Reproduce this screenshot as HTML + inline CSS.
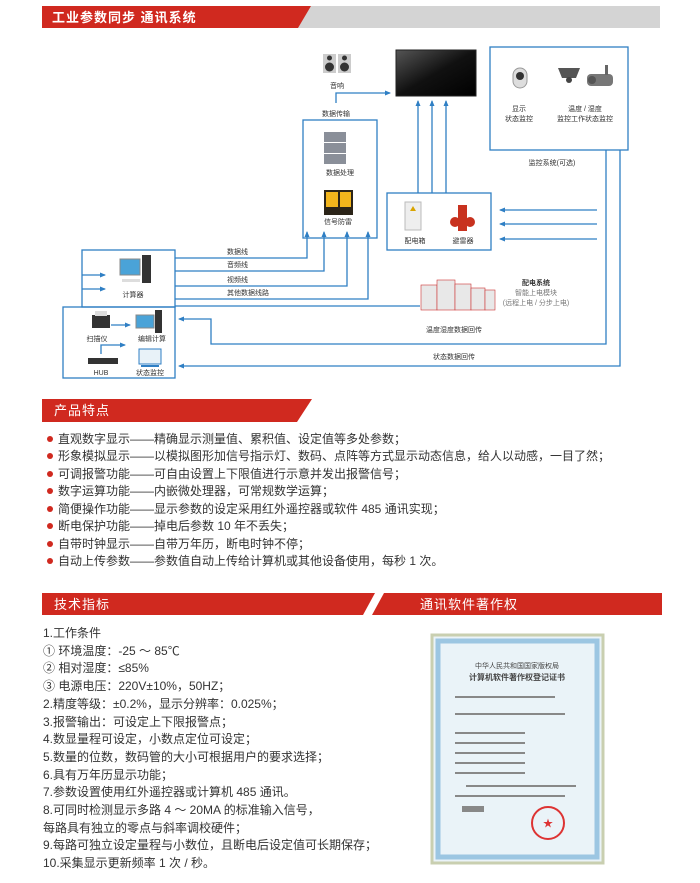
<!DOCTYPE html>
<html><head><meta charset="utf-8">
<style>
*{margin:0;padding:0;box-sizing:border-box}
body{width:700px;height:883px;background:#fff;position:relative;overflow:hidden;font-family:"Liberation Sans","Noto Sans CJK SC",sans-serif;color:#333}
.t{position:absolute;font-size:12px;line-height:14px;white-space:nowrap}
.b{position:absolute;left:47px;width:6px;height:6px;border-radius:50%;background:#d0291f}
</style></head><body>
<svg width="700" height="883" style="position:absolute;left:0;top:0" font-family="Liberation Sans, Noto Sans CJK SC, sans-serif">
<defs>
<marker id="a" markerWidth="6" markerHeight="6" refX="5" refY="3" orient="auto" markerUnits="userSpaceOnUse"><path d="M0,0.5 L6,3 L0,5.5z" fill="#2f7fc4"/></marker>
<linearGradient id="tv" x1="0" y1="0" x2="1" y2="1"><stop offset="0" stop-color="#555"/><stop offset="0.5" stop-color="#111"/><stop offset="1" stop-color="#000"/></linearGradient>
</defs>
<!-- headers -->
<polygon points="42,6 660,6 660,28 42,28" fill="#d4d4d4"/>
<polygon points="42,6 311,6 298,28 42,28" fill="#d0291f"/>
<text x="52" y="22" font-size="13" fill="#fff" font-weight="bold" letter-spacing="1">工业参数同步 通讯系统</text>
<polygon points="42,399 312,399 297,422 42,422" fill="#d0291f"/>
<text x="54" y="415" font-size="13" fill="#fff" letter-spacing="1">产品特点</text>
<polygon points="42,593 375,593 363,615 42,615" fill="#d0291f"/>
<text x="54" y="609" font-size="13" fill="#fff" letter-spacing="1">技术指标</text>
<polygon points="384,593 662,593 662,615 372,615" fill="#d0291f"/>
<text x="420" y="609" font-size="13" fill="#fff" letter-spacing="1">通讯软件著作权</text>

<g stroke="#2f7fc4" stroke-width="1.3" fill="none">
<!-- boxes -->
<rect x="303" y="120" width="74" height="118"/>
<rect x="490" y="47" width="138" height="103"/>
<rect x="387" y="193" width="104" height="57"/>
<rect x="82" y="250" width="93" height="57"/>
<rect x="63" y="307" width="112" height="71"/>
<line x1="175" y1="306" x2="420" y2="306"/>
<!-- to TV -->
<polyline points="336,103 336,93 390,93" marker-end="url(#a)"/>
<line x1="418" y1="193" x2="418" y2="101" marker-end="url(#a)"/>
<line x1="432" y1="193" x2="432" y2="101" marker-end="url(#a)"/>
<line x1="446" y1="193" x2="446" y2="101" marker-end="url(#a)"/>
<!-- computer lines -->
<polyline points="175,258 307,258 307,232" marker-end="url(#a)"/>
<polyline points="175,271 324,271 324,232" marker-end="url(#a)"/>
<polyline points="175,286 347,286 347,232" marker-end="url(#a)"/>
<polyline points="175,299 368,299 368,232" marker-end="url(#a)"/>
<line x1="82" y1="275" x2="105" y2="275" marker-end="url(#a)"/>
<line x1="82" y1="289" x2="105" y2="289" marker-end="url(#a)"/>
<!-- power box arrows -->
<line x1="597" y1="210" x2="500" y2="210" marker-end="url(#a)"/>
<line x1="597" y1="224" x2="500" y2="224" marker-end="url(#a)"/>
<line x1="597" y1="239" x2="500" y2="239" marker-end="url(#a)"/>
<!-- return -->
<polyline points="606,150 606,344 211,344 211,319 179,319" marker-end="url(#a)"/>
<polyline points="620,150 620,366 179,366" marker-end="url(#a)"/>
<line x1="111" y1="325" x2="130" y2="325" marker-end="url(#a)"/>
<polyline points="101,354 101,345 125,345" marker-end="url(#a)"/>
</g>
<!-- icons -->
<rect x="323" y="54" width="13" height="19" fill="#ccc"/><rect x="338" y="54" width="13" height="19" fill="#ccc"/>
<circle cx="329.5" cy="67" r="4.5" fill="#333"/><circle cx="344.5" cy="67" r="4.5" fill="#333"/>
<circle cx="329.5" cy="58" r="2.5" fill="#333"/><circle cx="344.5" cy="58" r="2.5" fill="#333"/>
<rect x="396" y="50" width="80" height="46" fill="url(#tv)" stroke="#222"/>
<rect x="513" y="68" width="14" height="20" rx="7" fill="#ddd" stroke="#999"/><circle cx="520" cy="76" r="4" fill="#333"/>
<path d="M558,68 h22 l-4,10 h-14z" fill="#555"/><circle cx="569" cy="80" r="3" fill="#444"/>
<rect x="587" y="74" width="26" height="12" rx="4" fill="#777"/><circle cx="592" cy="80" r="4" fill="#555"/><rect x="605" y="65" width="3" height="10" fill="#666"/>
<g fill="#8a8f99"><rect x="324" y="132" width="22" height="10"/><rect x="324" y="143" width="22" height="10"/><rect x="324" y="154" width="22" height="10"/></g>
<rect x="324" y="190" width="29" height="25" fill="#2b2418"/><rect x="326" y="192" width="12" height="15" fill="#f2b51c"/><rect x="340" y="192" width="11" height="15" fill="#f2b51c"/>
<rect x="405" y="202" width="16" height="28" fill="#eee" stroke="#bbb"/><polygon points="413,206 410,211 416,211" fill="#d9a400"/>
<rect x="458" y="205" width="9" height="26" fill="#c8321f"/><ellipse cx="455" cy="222" rx="5" ry="5" fill="#c8321f"/><ellipse cx="470" cy="222" rx="5" ry="5" fill="#c8321f"/>
<rect x="120" y="259" width="20" height="16" fill="#4aa3d8" stroke="#888"/><rect x="142" y="255" width="9" height="28" fill="#333"/><rect x="122" y="279" width="18" height="3" fill="#ddd"/>
<g fill="#e8e8e8" stroke="#c33" stroke-width="0.6"><rect x="421" y="285" width="16" height="25"/><rect x="437" y="280" width="18" height="30"/><rect x="455" y="284" width="16" height="26"/><rect x="471" y="288" width="14" height="22"/><rect x="485" y="290" width="10" height="20"/></g>
<rect x="92" y="315" width="18" height="13" fill="#333"/><rect x="95" y="311" width="12" height="5" fill="#ddd"/>
<rect x="136" y="315" width="18" height="13" fill="#4aa3d8" stroke="#888"/><rect x="155" y="310" width="7" height="23" fill="#333"/>
<rect x="88" y="358" width="30" height="6" fill="#333"/>
<rect x="139" y="349" width="22" height="15" fill="#e8f2f8" stroke="#2f7fc4"/><rect x="141" y="365" width="18" height="2" fill="#2f7fc4"/>
<!-- labels -->
<g font-size="7" fill="#333" text-anchor="middle">
<text x="337" y="88">音响</text><text x="336" y="116">数据传输</text>
<text x="340" y="175">数据处理</text><text x="338" y="224">信号防雷</text>
<text x="519" y="111">显示</text><text x="519" y="121">状态监控</text>
<text x="585" y="111">温度 / 湿度</text><text x="585" y="121">监控工作状态监控</text>
<text x="552" y="165">监控系统(可选)</text>
<text x="415" y="243">配电箱</text><text x="463" y="243">避雷器</text>
<text x="133" y="297">计算器</text><text x="97" y="341">扫描仪</text><text x="152" y="341">编辑计算</text>
<text x="101" y="375">HUB</text><text x="150" y="375">状态监控</text>
<text x="454" y="332">温度湿度数据回传</text><text x="454" y="359">状态数据回传</text>
<text x="536" y="285" font-weight="bold">配电系统</text>
<text x="536" y="295" fill="#777">智能上电模块</text><text x="536" y="305" fill="#777">(远程上电 / 分步上电)</text>
</g>
<g font-size="7" fill="#333"><text x="227" y="254">数据线</text><text x="227" y="267">音频线</text><text x="227" y="282">视频线</text><text x="227" y="295">其他数据线路</text></g>
<!-- certificate -->
<rect x="432" y="635" width="171" height="228" fill="#eaf3f8" stroke="#c9cfb0" stroke-width="3"/>
<rect x="438" y="641" width="159" height="216" fill="none" stroke="#9cc6e2" stroke-width="5"/>
<g text-anchor="middle" fill="#444"><text x="517" y="668" font-size="7">中华人民共和国国家版权局</text><text x="517" y="680" font-size="8" font-weight="bold">计算机软件著作权登记证书</text></g>
<g fill="#888"><rect x="455" y="696" width="100" height="2"/><rect x="455" y="713" width="110" height="2"/><rect x="455" y="732" width="70" height="2"/><rect x="455" y="742" width="70" height="2"/><rect x="455" y="752" width="70" height="2"/><rect x="455" y="762" width="70" height="2"/><rect x="455" y="772" width="70" height="2"/><rect x="466" y="785" width="110" height="2"/><rect x="455" y="795" width="110" height="2"/><rect x="462" y="806" width="22" height="6"/></g>
<circle cx="548" cy="823" r="16" fill="none" stroke="#d33" stroke-width="2"/><text x="548" y="827" font-size="10" fill="#d33" text-anchor="middle">★</text>
</svg>
<div class="b" style="top:436px"></div><div class="t" style="left:58px;top:432px">直观数字显示——精确显示测量值、累积值、设定值等多处参数；</div>
<div class="b" style="top:453px"></div><div class="t" style="left:58px;top:449px">形象模拟显示——以模拟图形加信号指示灯、数码、点阵等方式显示动态信息，给人以动感，一目了然；</div>
<div class="b" style="top:471px"></div><div class="t" style="left:58px;top:467px">可调报警功能——可自由设置上下限值进行示意并发出报警信号；</div>
<div class="b" style="top:488px"></div><div class="t" style="left:58px;top:484px">数字运算功能——内嵌微处理器，可常规数学运算；</div>
<div class="b" style="top:506px"></div><div class="t" style="left:58px;top:502px">简便操作功能——显示参数的设定采用红外遥控器或软件 485 通讯实现；</div>
<div class="b" style="top:523px"></div><div class="t" style="left:58px;top:519px">断电保护功能——掉电后参数 10 年不丢失；</div>
<div class="b" style="top:541px"></div><div class="t" style="left:58px;top:537px">自带时钟显示——自带万年历，断电时钟不停；</div>
<div class="b" style="top:558px"></div><div class="t" style="left:58px;top:554px">自动上传参数——参数值自动上传给计算机或其他设备使用，每秒 1 次。</div>
<div class="t" style="left:43px;top:625px;line-height:17.7px">1.工作条件<br>① 环境温度：-25 ～ 85℃<br>② 相对湿度：≤85%<br>③ 电源电压：220V±10%，50HZ；<br>2.精度等级：±0.2%，显示分辨率：0.025%；<br>3.报警输出：可设定上下限报警点；<br>4.数显量程可设定，小数点定位可设定；<br>5.数量的位数，数码管的大小可根据用户的要求选择；<br>6.具有万年历显示功能；<br>7.参数设置使用红外遥控器或计算机 485 通讯。<br>8.可同时检测显示多路 4 ～ 20MA 的标准输入信号，<br>每路具有独立的零点与斜率调校硬件；<br>9.每路可独立设定量程与小数位，且断电后设定值可长期保存；<br>10.采集显示更新频率 1 次 / 秒。</div>
</body></html>
